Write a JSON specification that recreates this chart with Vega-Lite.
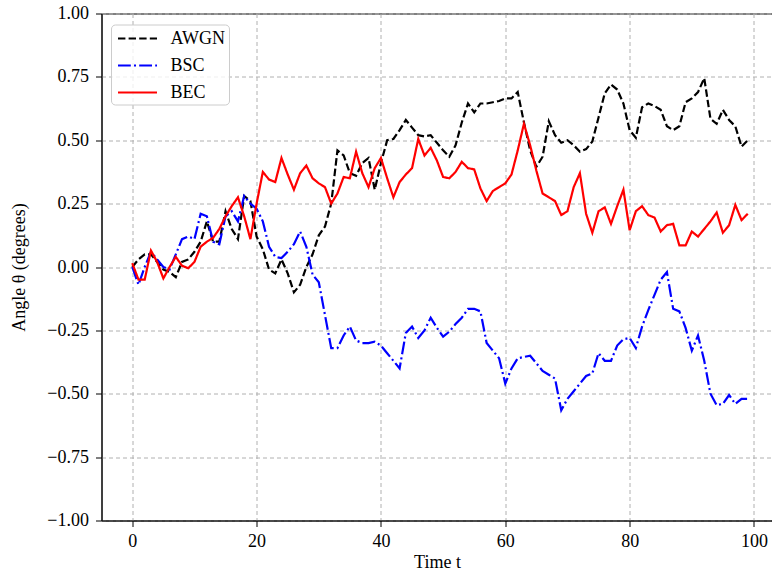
{
"$schema": "https://vega.github.io/schema/vega-lite/v6.json",
"width": 671, "height": 507,
"autosize": {"type": "none"},
"padding": {"left": 101.5, "top": 13.5, "right": 0, "bottom": 54.5},
"background": "white",
"data": {"values": [
{"t":0,"s":"AWGN","v":0.0},{"t":1,"s":"AWGN","v":0.03},{"t":2,"s":"AWGN","v":0.05},{"t":3,"s":"AWGN","v":0.05},{"t":4,"s":"AWGN","v":0.02},{"t":5,"s":"AWGN","v":-0.01},{"t":6,"s":"AWGN","v":-0.02},{"t":7,"s":"AWGN","v":-0.04},{"t":8,"s":"AWGN","v":0.02},{"t":9,"s":"AWGN","v":0.03},
{"t":10,"s":"AWGN","v":0.06},{"t":11,"s":"AWGN","v":0.1},{"t":12,"s":"AWGN","v":0.18},{"t":13,"s":"AWGN","v":0.1},{"t":14,"s":"AWGN","v":0.1},{"t":15,"s":"AWGN","v":0.22},{"t":16,"s":"AWGN","v":0.15},{"t":17,"s":"AWGN","v":0.11},{"t":18,"s":"AWGN","v":0.28},{"t":19,"s":"AWGN","v":0.26},
{"t":20,"s":"AWGN","v":0.12},{"t":21,"s":"AWGN","v":0.07},{"t":22,"s":"AWGN","v":-0.01},{"t":23,"s":"AWGN","v":-0.025},{"t":24,"s":"AWGN","v":0.03},{"t":25,"s":"AWGN","v":-0.025},{"t":26,"s":"AWGN","v":-0.1},{"t":27,"s":"AWGN","v":-0.07},{"t":28,"s":"AWGN","v":0.0},{"t":29,"s":"AWGN","v":0.05},
{"t":30,"s":"AWGN","v":0.125},{"t":31,"s":"AWGN","v":0.16},{"t":32,"s":"AWGN","v":0.25},{"t":33,"s":"AWGN","v":0.46},{"t":34,"s":"AWGN","v":0.44},{"t":35,"s":"AWGN","v":0.37},{"t":36,"s":"AWGN","v":0.36},{"t":37,"s":"AWGN","v":0.41},{"t":38,"s":"AWGN","v":0.43},{"t":39,"s":"AWGN","v":0.305},
{"t":40,"s":"AWGN","v":0.41},{"t":41,"s":"AWGN","v":0.5},{"t":42,"s":"AWGN","v":0.505},{"t":43,"s":"AWGN","v":0.54},{"t":44,"s":"AWGN","v":0.58},{"t":45,"s":"AWGN","v":0.55},{"t":46,"s":"AWGN","v":0.52},{"t":47,"s":"AWGN","v":0.515},{"t":48,"s":"AWGN","v":0.52},{"t":49,"s":"AWGN","v":0.49},
{"t":50,"s":"AWGN","v":0.46},{"t":51,"s":"AWGN","v":0.435},{"t":52,"s":"AWGN","v":0.48},{"t":53,"s":"AWGN","v":0.57},{"t":54,"s":"AWGN","v":0.645},{"t":55,"s":"AWGN","v":0.61},{"t":56,"s":"AWGN","v":0.645},{"t":57,"s":"AWGN","v":0.645},{"t":58,"s":"AWGN","v":0.65},{"t":59,"s":"AWGN","v":0.655},
{"t":60,"s":"AWGN","v":0.665},{"t":61,"s":"AWGN","v":0.665},{"t":62,"s":"AWGN","v":0.69},{"t":63,"s":"AWGN","v":0.57},{"t":64,"s":"AWGN","v":0.46},{"t":65,"s":"AWGN","v":0.395},{"t":66,"s":"AWGN","v":0.435},{"t":67,"s":"AWGN","v":0.575},{"t":68,"s":"AWGN","v":0.52},{"t":69,"s":"AWGN","v":0.49},
{"t":70,"s":"AWGN","v":0.5},{"t":71,"s":"AWGN","v":0.48},{"t":72,"s":"AWGN","v":0.455},{"t":73,"s":"AWGN","v":0.465},{"t":74,"s":"AWGN","v":0.495},{"t":75,"s":"AWGN","v":0.59},{"t":76,"s":"AWGN","v":0.685},{"t":77,"s":"AWGN","v":0.72},{"t":78,"s":"AWGN","v":0.7},{"t":79,"s":"AWGN","v":0.645},
{"t":80,"s":"AWGN","v":0.54},{"t":81,"s":"AWGN","v":0.51},{"t":82,"s":"AWGN","v":0.63},{"t":83,"s":"AWGN","v":0.645},{"t":84,"s":"AWGN","v":0.635},{"t":85,"s":"AWGN","v":0.62},{"t":86,"s":"AWGN","v":0.555},{"t":87,"s":"AWGN","v":0.54},{"t":88,"s":"AWGN","v":0.555},{"t":89,"s":"AWGN","v":0.65},
{"t":90,"s":"AWGN","v":0.665},{"t":91,"s":"AWGN","v":0.69},{"t":92,"s":"AWGN","v":0.745},{"t":93,"s":"AWGN","v":0.585},{"t":94,"s":"AWGN","v":0.565},{"t":95,"s":"AWGN","v":0.62},{"t":96,"s":"AWGN","v":0.58},{"t":97,"s":"AWGN","v":0.555},{"t":98,"s":"AWGN","v":0.475},{"t":99,"s":"AWGN","v":0.5},
{"t":0,"s":"BSC","v":0.0},{"t":1,"s":"BSC","v":-0.07},{"t":2,"s":"BSC","v":0.0},{"t":3,"s":"BSC","v":0.06},{"t":4,"s":"BSC","v":0.03},{"t":5,"s":"BSC","v":0.0},{"t":6,"s":"BSC","v":-0.01},{"t":7,"s":"BSC","v":0.05},{"t":8,"s":"BSC","v":0.11},{"t":9,"s":"BSC","v":0.12},
{"t":10,"s":"BSC","v":0.11},{"t":11,"s":"BSC","v":0.21},{"t":12,"s":"BSC","v":0.2},{"t":13,"s":"BSC","v":0.1},{"t":14,"s":"BSC","v":0.09},{"t":15,"s":"BSC","v":0.2},{"t":16,"s":"BSC","v":0.22},{"t":17,"s":"BSC","v":0.18},{"t":18,"s":"BSC","v":0.28},{"t":19,"s":"BSC","v":0.25},
{"t":20,"s":"BSC","v":0.23},{"t":21,"s":"BSC","v":0.18},{"t":22,"s":"BSC","v":0.08},{"t":23,"s":"BSC","v":0.04},{"t":24,"s":"BSC","v":0.035},{"t":25,"s":"BSC","v":0.06},{"t":26,"s":"BSC","v":0.09},{"t":27,"s":"BSC","v":0.14},{"t":28,"s":"BSC","v":0.08},{"t":29,"s":"BSC","v":-0.03},
{"t":30,"s":"BSC","v":-0.06},{"t":31,"s":"BSC","v":-0.19},{"t":32,"s":"BSC","v":-0.32},{"t":33,"s":"BSC","v":-0.32},{"t":34,"s":"BSC","v":-0.27},{"t":35,"s":"BSC","v":-0.235},{"t":36,"s":"BSC","v":-0.29},{"t":37,"s":"BSC","v":-0.3},{"t":38,"s":"BSC","v":-0.3},{"t":39,"s":"BSC","v":-0.295},
{"t":40,"s":"BSC","v":-0.31},{"t":41,"s":"BSC","v":-0.34},{"t":42,"s":"BSC","v":-0.37},{"t":43,"s":"BSC","v":-0.4},{"t":44,"s":"BSC","v":-0.26},{"t":45,"s":"BSC","v":-0.235},{"t":46,"s":"BSC","v":-0.28},{"t":47,"s":"BSC","v":-0.25},{"t":48,"s":"BSC","v":-0.2},{"t":49,"s":"BSC","v":-0.24},
{"t":50,"s":"BSC","v":-0.275},{"t":51,"s":"BSC","v":-0.255},{"t":52,"s":"BSC","v":-0.225},{"t":53,"s":"BSC","v":-0.2},{"t":54,"s":"BSC","v":-0.165},{"t":55,"s":"BSC","v":-0.165},{"t":56,"s":"BSC","v":-0.175},{"t":57,"s":"BSC","v":-0.3},{"t":58,"s":"BSC","v":-0.33},{"t":59,"s":"BSC","v":-0.36},
{"t":60,"s":"BSC","v":-0.46},{"t":61,"s":"BSC","v":-0.4},{"t":62,"s":"BSC","v":-0.36},{"t":63,"s":"BSC","v":-0.355},{"t":64,"s":"BSC","v":-0.35},{"t":65,"s":"BSC","v":-0.38},{"t":66,"s":"BSC","v":-0.41},{"t":67,"s":"BSC","v":-0.425},{"t":68,"s":"BSC","v":-0.44},{"t":69,"s":"BSC","v":-0.565},
{"t":70,"s":"BSC","v":-0.52},{"t":71,"s":"BSC","v":-0.49},{"t":72,"s":"BSC","v":-0.46},{"t":73,"s":"BSC","v":-0.43},{"t":74,"s":"BSC","v":-0.42},{"t":75,"s":"BSC","v":-0.34},{"t":76,"s":"BSC","v":-0.37},{"t":77,"s":"BSC","v":-0.37},{"t":78,"s":"BSC","v":-0.31},{"t":79,"s":"BSC","v":-0.285},
{"t":80,"s":"BSC","v":-0.28},{"t":81,"s":"BSC","v":-0.32},{"t":82,"s":"BSC","v":-0.235},{"t":83,"s":"BSC","v":-0.17},{"t":84,"s":"BSC","v":-0.11},{"t":85,"s":"BSC","v":-0.05},{"t":86,"s":"BSC","v":-0.02},{"t":87,"s":"BSC","v":-0.165},{"t":88,"s":"BSC","v":-0.175},{"t":89,"s":"BSC","v":-0.24},
{"t":90,"s":"BSC","v":-0.33},{"t":91,"s":"BSC","v":-0.27},{"t":92,"s":"BSC","v":-0.37},{"t":93,"s":"BSC","v":-0.5},{"t":94,"s":"BSC","v":-0.545},{"t":95,"s":"BSC","v":-0.54},{"t":96,"s":"BSC","v":-0.505},{"t":97,"s":"BSC","v":-0.54},{"t":98,"s":"BSC","v":-0.52},{"t":99,"s":"BSC","v":-0.52},
{"t":0,"s":"BEC","v":0.015},{"t":1,"s":"BEC","v":-0.05},{"t":2,"s":"BEC","v":-0.05},{"t":3,"s":"BEC","v":0.065},{"t":4,"s":"BEC","v":0.02},{"t":5,"s":"BEC","v":-0.045},{"t":6,"s":"BEC","v":0.0},{"t":7,"s":"BEC","v":0.04},{"t":8,"s":"BEC","v":0.005},{"t":9,"s":"BEC","v":-0.005},
{"t":10,"s":"BEC","v":0.02},{"t":11,"s":"BEC","v":0.08},{"t":12,"s":"BEC","v":0.1},{"t":13,"s":"BEC","v":0.115},{"t":14,"s":"BEC","v":0.15},{"t":15,"s":"BEC","v":0.2},{"t":16,"s":"BEC","v":0.24},{"t":17,"s":"BEC","v":0.275},{"t":18,"s":"BEC","v":0.2},{"t":19,"s":"BEC","v":0.11},
{"t":20,"s":"BEC","v":0.25},{"t":21,"s":"BEC","v":0.375},{"t":22,"s":"BEC","v":0.345},{"t":23,"s":"BEC","v":0.335},{"t":24,"s":"BEC","v":0.43},{"t":25,"s":"BEC","v":0.365},{"t":26,"s":"BEC","v":0.305},{"t":27,"s":"BEC","v":0.37},{"t":28,"s":"BEC","v":0.4},{"t":29,"s":"BEC","v":0.35},
{"t":30,"s":"BEC","v":0.33},{"t":31,"s":"BEC","v":0.315},{"t":32,"s":"BEC","v":0.25},{"t":33,"s":"BEC","v":0.29},{"t":34,"s":"BEC","v":0.355},{"t":35,"s":"BEC","v":0.35},{"t":36,"s":"BEC","v":0.455},{"t":37,"s":"BEC","v":0.37},{"t":38,"s":"BEC","v":0.315},{"t":39,"s":"BEC","v":0.39},
{"t":40,"s":"BEC","v":0.43},{"t":41,"s":"BEC","v":0.35},{"t":42,"s":"BEC","v":0.275},{"t":43,"s":"BEC","v":0.335},{"t":44,"s":"BEC","v":0.365},{"t":45,"s":"BEC","v":0.39},{"t":46,"s":"BEC","v":0.505},{"t":47,"s":"BEC","v":0.44},{"t":48,"s":"BEC","v":0.47},{"t":49,"s":"BEC","v":0.42},
{"t":50,"s":"BEC","v":0.355},{"t":51,"s":"BEC","v":0.35},{"t":52,"s":"BEC","v":0.375},{"t":53,"s":"BEC","v":0.415},{"t":54,"s":"BEC","v":0.39},{"t":55,"s":"BEC","v":0.385},{"t":56,"s":"BEC","v":0.31},{"t":57,"s":"BEC","v":0.26},{"t":58,"s":"BEC","v":0.3},{"t":59,"s":"BEC","v":0.315},
{"t":60,"s":"BEC","v":0.33},{"t":61,"s":"BEC","v":0.365},{"t":62,"s":"BEC","v":0.46},{"t":63,"s":"BEC","v":0.565},{"t":64,"s":"BEC","v":0.48},{"t":65,"s":"BEC","v":0.38},{"t":66,"s":"BEC","v":0.29},{"t":67,"s":"BEC","v":0.275},{"t":68,"s":"BEC","v":0.26},{"t":69,"s":"BEC","v":0.205},
{"t":70,"s":"BEC","v":0.22},{"t":71,"s":"BEC","v":0.315},{"t":72,"s":"BEC","v":0.37},{"t":73,"s":"BEC","v":0.21},{"t":74,"s":"BEC","v":0.135},{"t":75,"s":"BEC","v":0.22},{"t":76,"s":"BEC","v":0.235},{"t":77,"s":"BEC","v":0.17},{"t":78,"s":"BEC","v":0.24},{"t":79,"s":"BEC","v":0.305},
{"t":80,"s":"BEC","v":0.145},{"t":81,"s":"BEC","v":0.22},{"t":82,"s":"BEC","v":0.24},{"t":83,"s":"BEC","v":0.205},{"t":84,"s":"BEC","v":0.195},{"t":85,"s":"BEC","v":0.14},{"t":86,"s":"BEC","v":0.165},{"t":87,"s":"BEC","v":0.17},{"t":88,"s":"BEC","v":0.085},{"t":89,"s":"BEC","v":0.085},
{"t":90,"s":"BEC","v":0.14},{"t":91,"s":"BEC","v":0.12},{"t":92,"s":"BEC","v":0.15},{"t":93,"s":"BEC","v":0.18},{"t":94,"s":"BEC","v":0.215},{"t":95,"s":"BEC","v":0.135},{"t":96,"s":"BEC","v":0.165},{"t":97,"s":"BEC","v":0.245},{"t":98,"s":"BEC","v":0.185},{"t":99,"s":"BEC","v":0.21}
]},
"mark": {"type": "line", "strokeWidth": 2.2, "clip": true},
"encoding": {
"x": {"field": "t", "type": "quantitative",
  "scale": {"domain": [-4.95, 102.98], "nice": false, "zero": false},
  "axis": {"values": [0, 20, 40, 60, 80, 100], "format": "d", "title": "Time t",
    "titleBaseline": "alphabetic", "titleY": 47, "labelPadding": 6}},
"y": {"field": "v", "type": "quantitative",
  "scale": {"domain": [-1, 1], "nice": false, "zero": false},
  "axis": {"values": [-1, -0.75, -0.5, -0.25, 0, 0.25, 0.5, 0.75, 1], "format": ".2f", "title": "Angle θ (degrees)",
    "titleX": -73, "titleY": 253.5, "titleBaseline": "bottom", "labelPadding": 7}},
"color": {"field": "s", "type": "nominal",
  "scale": {"domain": ["AWGN", "BSC", "BEC"], "range": ["#000000", "#0000ff", "#ff0000"]},
  "legend": {"title": null, "orient": "none", "legendX": 9.5, "legendY": 11,
    "fillColor": "rgba(255,255,255,0.8)", "strokeColor": "#cccccc", "cornerRadius": 4, "padding": 3,
    "symbolType": "M-2,0H2", "symbolSize": 380, "symbolStrokeWidth": 2.2, "symbolOffset": 12.5, "labelOffset": 22, "rowPadding": 7,
    "labelFontSize": 18, "labelFont": "Liberation Serif", "labelColor": "black"}},
"strokeDash": {"field": "s", "type": "nominal",
  "scale": {"domain": ["AWGN", "BSC", "BEC"], "range": [[7.4, 3.2], [12.8, 3.2, 2, 3.2], [1, 0]]},
  "legend": {"title": null, "orient": "none", "legendX": 9.5, "legendY": 11,
    "fillColor": "rgba(255,255,255,0.8)", "strokeColor": "#cccccc", "cornerRadius": 4, "padding": 3,
    "symbolType": "M-2,0H2", "symbolSize": 380, "symbolStrokeWidth": 2.2, "symbolOffset": 12.5, "labelOffset": 22, "rowPadding": 7,
    "labelFontSize": 18, "labelFont": "Liberation Serif", "labelColor": "black"}}
},
"config": {
  "font": "Liberation Serif",
  "view": {"stroke": "black", "strokeWidth": 1},
  "axis": {"labelFont": "Liberation Serif", "labelFontSize": 18, "labelColor": "black",
    "titleFont": "Liberation Serif", "titleFontSize": 18, "titleFontWeight": "normal", "titleColor": "black",
    "domainColor": "black", "domainWidth": 1, "tickColor": "black", "tickSize": 6, "tickWidth": 1,
    "gridColor": "#b0b0b0", "gridDash": [4, 3], "gridWidth": 1, "gridOpacity": 1}
}
}
